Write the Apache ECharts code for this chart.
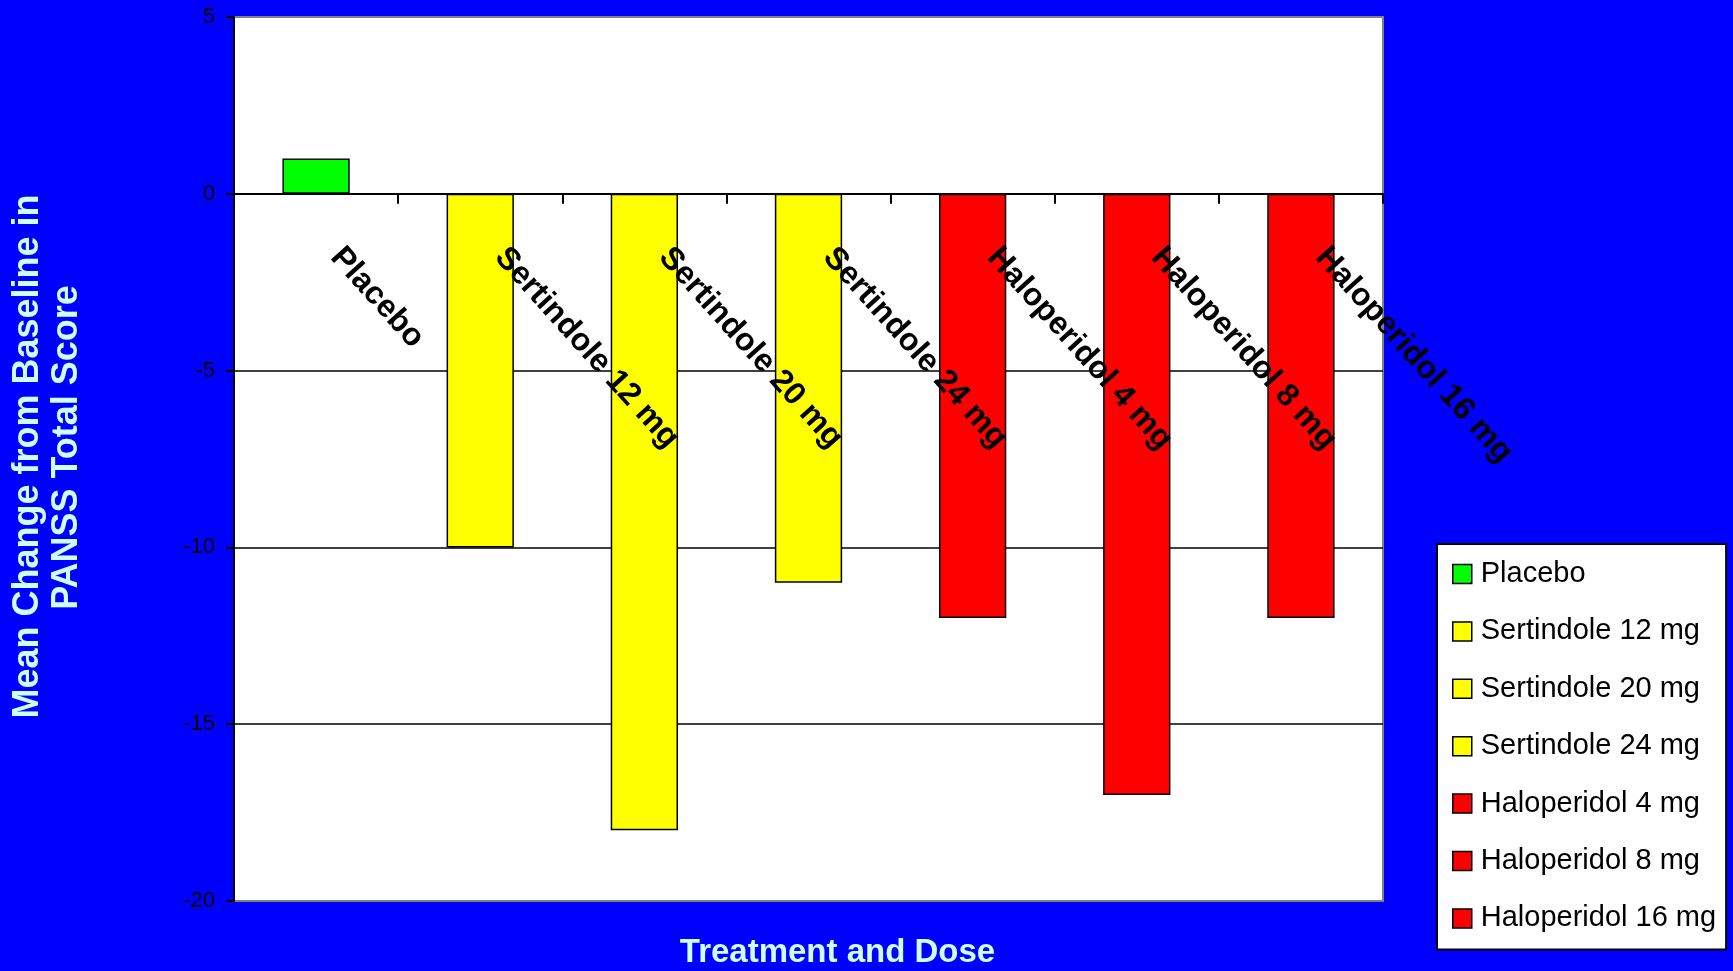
<!DOCTYPE html>
<html>
<head>
<meta charset="utf-8">
<title>Mean Change from Baseline in PANSS Total Score</title>
<script src="https://cdn.jsdelivr.net/npm/echarts@6/dist/echarts.min.js"></script>
<style>
  html, body { margin: 0; padding: 0; background: #0000FF; }
  #chart { width: 1733px; height: 971px; }
</style>
</head>
<body>
<div id="chart"></div>
<script>
// Treatment groups and their mean change from baseline
const categories = ['Placebo', 'Sertindole 12 mg', 'Sertindole 20 mg', 'Sertindole 24 mg',
                    'Haloperidol 4 mg', 'Haloperidol 8 mg', 'Haloperidol 16 mg'];
const changes = [1, -10, -18, -11, -12, -17, -12];
const barColors = ['#00FF00', '#FFFF00', '#FFFF00', '#FFFF00', '#FF0000', '#FF0000', '#FF0000'];
const yMin = -20, yMax = 5, yStep = 5;

const FONT = "'Liberation Sans', Arial, sans-serif";
const TITLE_COLOR = '#CCFFFF';

// Plot box in pixels
const W = 1733, H = 971;
const GRID = { left: 234, right: 350, top: 17, bottom: 70 };
const plotHeight = H - GRID.top - GRID.bottom;
// Lift the category axis (line, ticks, labels) from the plot bottom up to the zero line
const zeroLift = plotHeight * (0 - yMin) / (yMax - yMin);

const chart = echarts.init(document.getElementById('chart'), null, { renderer: 'canvas' });

// One series per group so every group gets its own legend entry;
// the bars share a slot via barGap -100%.
const series = categories.map((name, i) => ({
  name: name,
  type: 'bar',
  barWidth: '41%',
  barGap: '-100%',
  data: changes.map((v, j) => (j === i ? v : null)),
  itemStyle: { color: barColors[i], borderColor: '#000', borderWidth: 1.5 }
}));

chart.setOption({
  animation: false,
  backgroundColor: '#0000FF',
  grid: {
    left: GRID.left, right: GRID.right, top: GRID.top, bottom: GRID.bottom,
    containLabel: false,
    outerBoundsMode: 'none',
    show: true, backgroundColor: '#FFFFFF', borderColor: '#808080', borderWidth: 2
  },
  xAxis: {
    type: 'category',
    data: categories,
    z: 5,
    position: 'bottom',
    offset: -zeroLift,
    axisLine: { onZero: false, lineStyle: { color: '#000', width: 2 } },
    axisTick: { show: true, length: 10, lineStyle: { color: '#000', width: 2 } },
    axisLabel: {
      interval: 0,
      hideOverlap: false,
      rotate: -48,
      margin: 36,
      padding: [0, 0, 0, 30],
      color: '#000',
      fontFamily: FONT,
      fontWeight: 'bold',
      fontSize: 32
    },
    splitLine: { show: false }
  },
  yAxis: {
    type: 'value',
    min: yMin, max: yMax, interval: yStep,
    axisLine: { show: true, lineStyle: { color: '#000', width: 2 } },
    axisTick: { show: true, length: 8, lineStyle: { color: '#000', width: 2 } },
    axisLabel: { margin: 19, color: '#000', fontFamily: FONT, fontSize: 22 },
    splitLine: {
      show: true,
      lineStyle: { color: ['#808080', '#000', '#000', '#000', '#000', '#808080'], width: 1.5 }
    }
  },
  legend: {
    orient: 'vertical',
    left: 1437, top: 544,
    backgroundColor: '#FFFFFF',
    borderColor: '#000', borderWidth: 2,
    padding: [14, 10, 15, 15],
    itemGap: 25.4,
    itemWidth: 19, itemHeight: 19,
    icon: 'rect',
    itemStyle: { borderColor: '#000', borderWidth: 1.5 },
    selectedMode: false,
    textStyle: { color: '#000', fontFamily: FONT, fontSize: 29, lineHeight: 32, padding: [0, 0, 0, 4] },
    data: categories
  },
  graphic: [
    {
      type: 'text', x: 28, y: 456.5, rotation: Math.PI / 2,
      style: { text: 'Mean Change from Baseline in', fill: TITLE_COLOR, font: 'bold 36px ' + FONT,
               textAlign: 'center', textVerticalAlign: 'middle' }
    },
    {
      type: 'text', x: 67.5, y: 447.5, rotation: Math.PI / 2,
      style: { text: 'PANSS Total Score', fill: TITLE_COLOR, font: 'bold 36px ' + FONT,
               textAlign: 'center', textVerticalAlign: 'middle' }
    },
    {
      type: 'text', x: 837.5, y: 953,
      style: { text: 'Treatment and Dose', fill: TITLE_COLOR, font: 'bold 33px ' + FONT,
               textAlign: 'center', textVerticalAlign: 'middle' }
    }
  ],
  series: series
});
</script>
</body>
</html>
